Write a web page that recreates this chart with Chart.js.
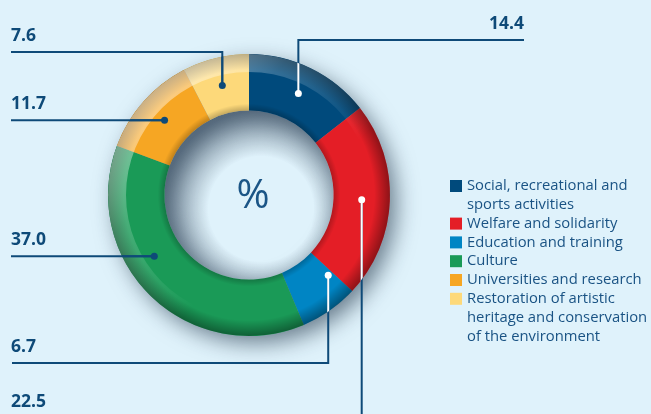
<!DOCTYPE html>
<html>
<head>
<meta charset="utf-8">
<script src="https://cdn.jsdelivr.net/npm/chart.js@4.4.1/dist/chart.umd.min.js"></script>
<style>
  html, body { margin: 0; padding: 0; background: #dff2fb; }
  #wrap { position: relative; width: 651px; height: 414px; }
</style>
</head>
<body>
<div id="wrap"><canvas id="sectorChart" width="651" height="414"></canvas></div>
<script>
// Distribution of grants by sector, in %
const sectors = [
  "Social, recreational and sports activities",
  "Welfare and solidarity",
  "Education and training",
  "Culture",
  "Universities and research",
  "Restoration of artistic heritage and conservation of the environment"
];
const legendLines = [
  ["Social, recreational and", "sports activities"],
  ["Welfare and solidarity"],
  ["Education and training"],
  ["Culture"],
  ["Universities and research"],
  ["Restoration of artistic", "heritage and conservation", "of the environment"]
];
const shares = [14.4, 22.5, 6.7, 37.0, 11.7, 7.6];
const valueLabels = ["14.4", "22.5", "6.7", "37.0", "11.7", "7.6"];

const sliceColors = ["#004a7c", "#e41e26", "#0085c4", "#1a9a57", "#f6a623", "#fdd97a"];
const dotInk = ["#ffffff", "#ffffff", "#ffffff", "#0e4a78", "#0e4a78", "#0e4a78"];
const navy = "#0e4a78";

// where on each slice the leader starts (fraction of the slice's sweep)
const anchorAt = [0.5, 0.5, 0.1, 0.6, 0.5, 0.5];
// leader routes: each one leaves the dot and ends at a label
const routes = [
  { kind: "upRight", y: 40, x: 524, labelX: 524, align: "right" },
  { kind: "down", y: 414, labelX: 11, labelY: 407, align: "left" },
  { kind: "downLeft", y: 363, x: 12, labelX: 11, align: "left" },
  { kind: "left", x: 11, labelX: 11, align: "left" },
  { kind: "left", x: 11, labelX: 11, align: "left" },
  { kind: "upLeft", y: 52, x: 11, labelX: 11, align: "left" }
];

function ringPath(ctx, x, y, outer, inner) {
  ctx.beginPath();
  ctx.arc(x, y, outer, 0, Math.PI * 2);
  ctx.arc(x, y, inner, 0, Math.PI * 2, true);
  ctx.closePath();
}

const ringShade = {
  id: "ringShade",
  beforeDatasetsDraw(chart) {
    const arc = chart.getDatasetMeta(0).data[0];
    if (!arc) return;
    const { ctx } = chart;
    const { x, y, outerRadius, innerRadius } = arc.getProps(["x", "y", "outerRadius", "innerRadius"], true);
    ctx.save();
    ctx.shadowColor = "rgba(25,45,65,0.6)";
    ctx.shadowBlur = 22;
    ctx.shadowOffsetX = 7;
    ctx.shadowOffsetY = 8;
    ringPath(ctx, x, y, outerRadius - 1, innerRadius + 1);
    ctx.fillStyle = "#7a8a96";
    ctx.fill();
    ctx.restore();

    // the ring casts a soft shadow into the hole, heaviest at the top left
    ctx.save();
    ctx.beginPath();
    ctx.arc(x, y, innerRadius, 0, Math.PI * 2);
    ctx.clip();
    const h = ctx.createRadialGradient(x + 12, y + 14, innerRadius - 32, x + 12, y + 14, innerRadius + 14);
    h.addColorStop(0, "rgba(70,90,110,0)");
    h.addColorStop(1, "rgba(70,90,110,0.75)");
    ctx.fillStyle = h;
    ctx.fillRect(x - innerRadius, y - innerRadius, innerRadius * 2, innerRadius * 2);
    ctx.restore();
  },
  afterDatasetsDraw(chart) {
    const arc = chart.getDatasetMeta(0).data[0];
    if (!arc) return;
    const { ctx } = chart;
    const { x, y, outerRadius, innerRadius } = arc.getProps(["x", "y", "outerRadius", "innerRadius"], true);
    ctx.save();
    ringPath(ctx, x, y, outerRadius, innerRadius);
    ctx.clip("evenodd");

    // rounded tube look: darker at both edges
    const g = ctx.createRadialGradient(x, y, innerRadius, x, y, outerRadius);
    g.addColorStop(0, "rgba(0,0,0,0.22)");
    g.addColorStop(0.12, "rgba(0,0,0,0)");
    g.addColorStop(0.72, "rgba(0,0,0,0)");
    g.addColorStop(1, "rgba(0,0,0,0.38)");
    ctx.fillStyle = g;
    ctx.fillRect(x - outerRadius, y - outerRadius, outerRadius * 2, outerRadius * 2);

    // light from the top left washes the outer rim
    ringPath(ctx, x, y, outerRadius, outerRadius - 18);
    ctx.clip("evenodd");
    const l = ctx.createLinearGradient(x - outerRadius, y - outerRadius, x + outerRadius * 0.2, y + outerRadius * 0.2);
    l.addColorStop(0, "rgba(255,255,255,0.7)");
    l.addColorStop(0.55, "rgba(255,255,255,0.2)");
    l.addColorStop(1, "rgba(255,255,255,0)");
    ctx.fillStyle = l;
    ctx.fillRect(x - outerRadius, y - outerRadius, outerRadius * 2, outerRadius * 2);
    ctx.restore();
  }
};

const leaders = {
  id: "leaders",
  afterDraw(chart) {
    const { ctx } = chart;
    const arcs = chart.getDatasetMeta(0).data;
    const c = arcs[0].getProps(["x", "y", "outerRadius", "innerRadius"], true);

    const paths = arcs.map((a, i) => {
      const p = a.getProps(["startAngle", "endAngle", "innerRadius", "outerRadius"], true);
      const ang = p.startAngle + (p.endAngle - p.startAngle) * anchorAt[i];
      const r = (p.innerRadius + p.outerRadius) / 2;
      const px = c.x + Math.cos(ang) * r;
      const py = c.y + Math.sin(ang) * r;
      const rt = routes[i];
      let pts, labelY;
      if (rt.kind === "upRight" || rt.kind === "upLeft" || rt.kind === "downLeft") {
        pts = [[px, py], [px, rt.y], [rt.x, rt.y]];
        labelY = rt.y - 11;
      } else if (rt.kind === "down") {
        pts = [[px, py], [px, rt.y]];
        labelY = rt.labelY;
      } else {
        pts = [[px, py], [rt.x, py]];
        labelY = py - 11;
      }
      return { pts, labelY, px, py };
    });

    const stroke = (pts, color) => {
      ctx.beginPath();
      ctx.moveTo(pts[0][0], pts[0][1]);
      pts.slice(1).forEach(p => ctx.lineTo(p[0], p[1]));
      ctx.strokeStyle = color;
      ctx.lineWidth = 2;
      ctx.stroke();
    };

    ctx.save();
    ctx.lineCap = "butt";
    ctx.lineJoin = "miter";
    paths.forEach(p => stroke(p.pts, navy));
    // inside the ring each leader takes the dot colour
    ctx.save();
    ringPath(ctx, c.x, c.y, c.outerRadius, c.innerRadius);
    ctx.clip("evenodd");
    paths.forEach((p, i) => stroke(p.pts, dotInk[i]));
    ctx.restore();
    paths.forEach((p, i) => {
      ctx.beginPath();
      ctx.arc(p.px, p.py, 3.5, 0, Math.PI * 2);
      ctx.fillStyle = dotInk[i];
      ctx.fill();
    });

    ctx.font = "bold 17.5px 'Open Sans', sans-serif";
    ctx.fillStyle = navy;
    ctx.textBaseline = "alphabetic";
    paths.forEach((p, i) => {
      ctx.textAlign = routes[i].align;
      ctx.fillText(valueLabels[i], routes[i].labelX, p.labelY);
    });

    // unit in the hole
    ctx.font = "40px 'Open Sans', sans-serif";
    ctx.fillStyle = "#1b5586";
    ctx.textAlign = "center";
    ctx.textBaseline = "middle";
    ctx.fillText("%", c.x + 4, c.y + 2);
    ctx.restore();
  }
};

const sideLegend = {
  id: "sideLegend",
  afterDraw(chart) {
    const { ctx } = chart;
    const boxX = 450, textX = 467, lineH = 18.8;
    let rowY = 186;
    ctx.save();
    ctx.font = "14.8px 'Open Sans', sans-serif";
    ctx.textBaseline = "middle";
    ctx.textAlign = "left";
    legendLines.forEach((lines, i) => {
      ctx.fillStyle = sliceColors[i];
      ctx.fillRect(boxX, rowY - 6, 12, 12);
      ctx.fillStyle = "#1a5384";
      lines.forEach((t, j) => ctx.fillText(t, textX, rowY + j * lineH));
      rowY += lines.length * lineH;
    });
    ctx.restore();
  }
};

new Chart(document.getElementById("sectorChart"), {
  type: "doughnut",
  data: {
    labels: sectors,
    datasets: [{
      data: shares,
      backgroundColor: sliceColors,
      borderWidth: 0
    }]
  },
  options: {
    responsive: false,
    animation: false,
    cutout: "60%",
    layout: { padding: { left: 108, right: 261, top: 54, bottom: 78 } },
    plugins: {
      legend: { display: false },
      tooltip: { enabled: false }
    }
  },
  plugins: [ringShade, leaders, sideLegend]
});
</script>
</body>
</html>
